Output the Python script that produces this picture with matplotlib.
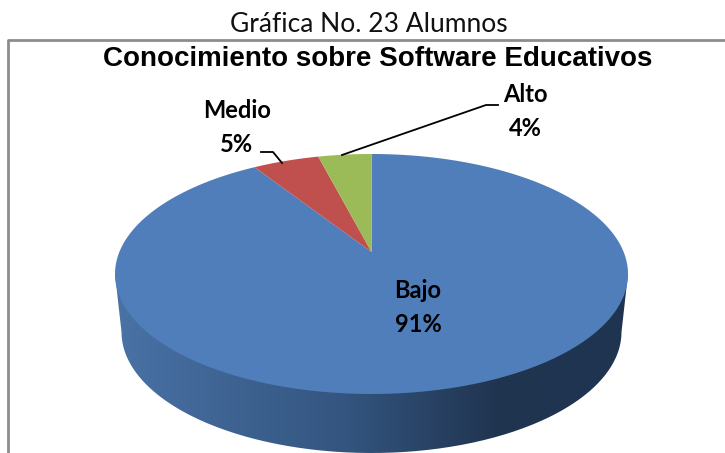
import numpy as np
import matplotlib
matplotlib.use("Agg")
import matplotlib.pyplot as plt
from matplotlib.colors import LinearSegmentedColormap
from matplotlib.patches import PathPatch
from matplotlib.path import Path

categories = ["Bajo", "Medio", "Alto"]
values = [91, 5, 4]
colors = ["#4F7EBA", "#C0504D", "#9BBB59"]
sup_title = "Gráfica No. 23 Alumnos"
chart_title = "Conocimiento sobre Software Educativos"

W, H = 725, 453
CX, CY, RX, RY = 371.5, 274, 256.5, 120
APEX_Y = 252


def to_top_face(theta):
    # circle -> ellipse, with the pie centre pushed back for the 3d look
    x, y = np.cos(theta), np.sin(theta)
    a = (CY - APEX_Y) / RY
    d = 1 + a * y
    return CX + RX * x * np.sqrt(1 - a * a) / d, CY - RY * (y + a) / d


fig = plt.figure(figsize=(W / 100, H / 100), dpi=100)
ax = fig.add_axes([0, 0, 1, 1])
ax.set_xlim(0, W)
ax.set_ylim(H, 0)
ax.axis("off")

# side of the pie
t = np.linspace(np.pi, 0, 200)
low_x = CX + 250 * np.cos(t)
low_y = 332 + 121 * np.sin(t)
side_x = np.r_[CX - RX, low_x, CX + RX]
side_y = np.r_[CY, low_y, CY]
side = PathPatch(Path(np.c_[side_x, side_y]), fc="none", ec="none", transform=ax.transData)
ax.add_patch(side)
cmap = LinearSegmentedColormap.from_list(
    "side", [(0, "#4A72A6"), (0.45, "#33557F"), (0.75, "#20344F"), (1, "#1F3552")]
)
grad = np.linspace(0, 1, 256).reshape(1, -1)
im = ax.imshow(grad, cmap=cmap, extent=(CX - RX, CX + RX, H, CY), aspect="auto", zorder=1)
im.set_clip_path(side)
ax.set_xlim(0, W)
ax.set_ylim(H, 0)

# top face, clockwise from 12 o'clock
start = np.pi / 2
for val, col in zip(values, colors):
    stop = start - val / sum(values) * 2 * np.pi
    th = np.linspace(start, stop, 300)
    ex, ey = to_top_face(th)
    ax.fill(np.r_[CX, ex], np.r_[APEX_Y, ey], color=col, lw=0, zorder=2)
    start = stop

# leader lines
ax.plot([342, 486, 498], [155, 105, 105], color="black", lw=1.3, zorder=3)
ax.plot([282, 273, 261], [163, 152, 152], color="black", lw=1.3, zorder=3)

# frame
ax.plot([8, 8, W + 2], [H + 2, 40, 40], color="#8C8C8C", lw=2, zorder=3, clip_on=True)

ax.text(369, 25, sup_title, fontsize=19, family="Lato", ha="center", va="center", color="#111111")
ax.text(378, 59, chart_title, fontsize=20, family="Liberation Sans", fontweight="bold",
        ha="center", va="center", color="black")

label_pos = {"Bajo": (418, 290), "Medio": (237, 111), "Alto": (525, 95)}
for name, val in zip(categories, values):
    x, y = label_pos[name]
    ax.text(x, y, name, fontsize=17, family="Lato", fontweight="bold", ha="center", va="center")
    ax.text(x, y + 34, f"{val}%", fontsize=17, family="Lato", fontweight="bold", ha="center", va="center")

fig.savefig("out.png", dpi=100)
